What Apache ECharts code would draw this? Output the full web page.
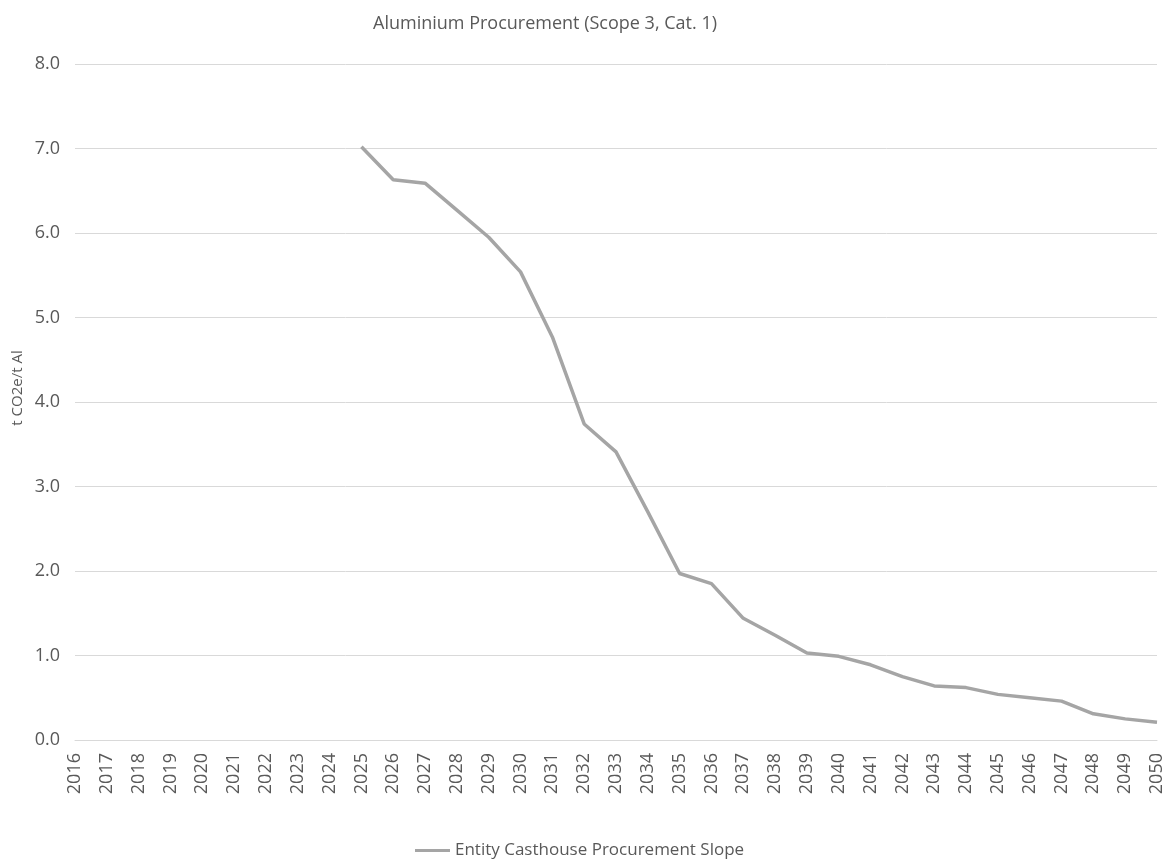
<!DOCTYPE html>
<html><head><meta charset="utf-8">
<script src="https://cdn.jsdelivr.net/npm/echarts@6/dist/echarts.min.js"></script>
<style>html,body{margin:0;padding:0;background:#fff}#c{width:1175px;height:864px}</style>
</head><body><div id="c"></div>
<script>
const years = ['2016','2017','2018','2019','2020','2021','2022','2023','2024','2025','2026','2027','2028','2029','2030','2031','2032','2033','2034','2035','2036','2037','2038','2039','2040','2041','2042','2043','2044','2045','2046','2047','2048','2049','2050'];
const slope = [null,null,null,null,null,null,null,null,null,7.02,6.63,6.59,6.27,5.95,5.54,4.77,3.74,3.41,2.70,1.97,1.85,1.44,1.24,1.03,0.99,0.89,0.75,0.64,0.62,0.54,0.50,0.46,0.31,0.25,0.21];
const yTicks = {min:0, max:8, interval:1};
const chart = echarts.init(document.getElementById('c'));
const txt = '#595959', font = 'Open Sans';
chart.setOption({
  animation:false,
  title:{text:'Aluminium Procurement (Scope 3, Cat. 1)', left:368, top:10,
    textStyle:{color:txt, fontSize:18, fontWeight:'normal', fontFamily:font}},
  grid:{left:75, right:18, top:64, bottom:124},
  legend:{top:837, left:410, icon:'rect', itemWidth:35, itemHeight:3, itemGap:6,
    textStyle:{color:txt, fontSize:17, fontFamily:font}, data:['Entity Casthouse Procurement Slope']},
  graphic:[{type:'text', x:18, y:388, rotation:Math.PI/2,
    style:{text:'t CO2e/t Al', fill:txt, fontSize:15, fontFamily:font, align:'center', verticalAlign:'middle'}}],
  xAxis:{type:'category', data:years, boundaryGap:false,
    axisLine:{lineStyle:{color:'#D9D9D9'}}, axisTick:{show:false},
    axisLabel:{rotate:90, color:txt, fontSize:18, fontFamily:font, margin:13, interval:0}},
  yAxis:{type:'value', min:yTicks.min, max:yTicks.max, interval:yTicks.interval,
    axisLine:{show:false}, axisTick:{show:false},
    axisLabel:{color:txt, fontSize:18, fontFamily:font, margin:15, formatter:v=>v.toFixed(1)},
    splitLine:{lineStyle:{color:'#D9D9D9'}}},
  series:[{name:'Entity Casthouse Procurement Slope', type:'line', data:slope, showSymbol:false,
    lineStyle:{color:'#A5A5A5', width:3.5}, itemStyle:{color:'#A5A5A5'}}]
});
</script></body></html>
